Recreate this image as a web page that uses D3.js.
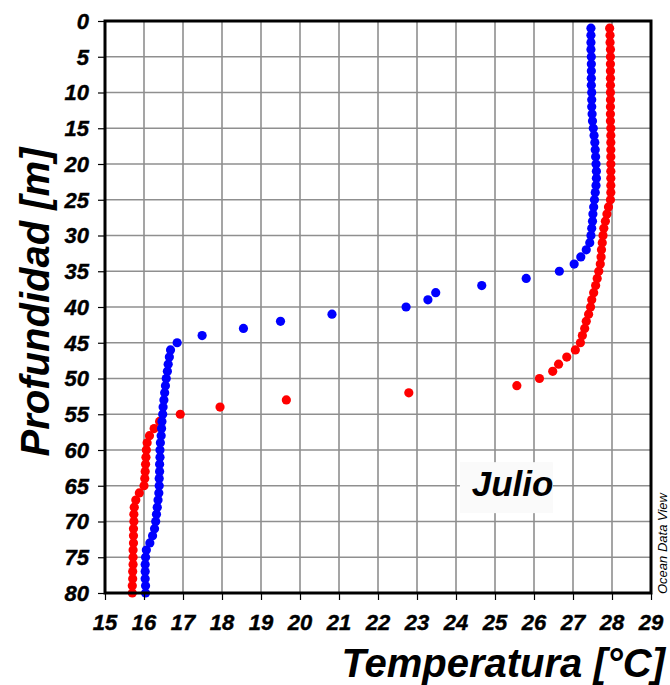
<!DOCTYPE html>
<html>
<head>
<meta charset="utf-8">
<script src="https://cdn.jsdelivr.net/npm/d3@7"></script>
<style>
  body { margin: 0; background: #fff; }
  text { font-family: "Liberation Sans", Arial, sans-serif; }
</style>
</head>
<body>
<div id="graph"></div>
<script>
// --------------------------------------
//  Data
// --------------------------------------

const depths = d3.range(1, 81);

const blueTemp = [
  27.46, 27.46, 27.46, 27.46, 27.47, 27.47, 27.47, 27.47, 27.47, 27.48,
  27.48, 27.48, 27.49, 27.50, 27.52, 27.54, 27.56, 27.57, 27.58, 27.59,
  27.60, 27.60, 27.59, 27.57, 27.55, 27.53, 27.51, 27.50, 27.48, 27.46,
  27.43, 27.34, 27.20, 27.03, 26.65, 25.80, 24.66, 23.48, 23.28, 22.72,
  20.82, 19.50, 18.55, 17.49, 16.85, 16.68, 16.65, 16.62, 16.60, 16.57,
  16.55, 16.53, 16.51, 16.49, 16.48, 16.46, 16.45, 16.44, 16.42, 16.41,
  16.41, 16.40, 16.40, 16.39, 16.39, 16.38, 16.36, 16.34, 16.32, 16.30,
  16.27, 16.22, 16.15, 16.06, 16.04, 16.03, 16.03, 16.03, 16.04, 16.04
];

const redTemp = [
  27.94, 27.95, 27.95, 27.96, 27.96, 27.96, 27.96, 27.96, 27.96, 27.96,
  27.96, 27.96, 27.96, 27.96, 27.97, 27.97, 27.97, 27.97, 27.97, 27.97,
  27.97, 27.97, 27.97, 27.97, 27.96, 27.91, 27.87, 27.83, 27.79, 27.77,
  27.75, 27.73, 27.72, 27.70, 27.66, 27.62, 27.58, 27.53, 27.48, 27.45,
  27.40, 27.34, 27.30, 27.24, 27.19, 27.06, 26.84, 26.63, 26.48, 26.14,
  25.56, 22.79, 19.65, 17.95, 16.93, 16.40, 16.26, 16.14, 16.08, 16.06,
  16.05, 16.04, 16.03, 16.02, 16.00, 15.88, 15.79, 15.75, 15.74, 15.74,
  15.73, 15.73, 15.73, 15.72, 15.72, 15.72, 15.71, 15.71, 15.70, 15.70
];

const tempTicks = d3.range(15, 30);
const depthTicks = d3.range(0, 81, 5);

// --------------------------------------
//  Margin and canvas
// --------------------------------------

const margin = { top: 21, right: 19, bottom: 92, left: 105 };
const width = 670 - margin.left - margin.right;
const height = 685 - margin.top - margin.bottom;

let svg = d3.select("#graph")
  .append("svg")
  .attr("width", 670)
  .attr("height", 685)
  .append("g")
  .attr("transform", "translate(" + margin.left + "," + margin.top + ")");

// --------------------------------------
//  Scales
// --------------------------------------

let x = d3.scaleLinear().domain([15, 29]).range([0, width]);
let y = d3.scaleLinear().domain([0, 80]).range([0, height]);

// --------------------------------------
//  Grid
// --------------------------------------

svg.append("g")
  .selectAll("line")
  .data(tempTicks)
  .join("line")
  .attr("x1", d => x(d)).attr("x2", d => x(d))
  .attr("y1", 0).attr("y2", height)
  .attr("stroke", "#8f8f8f")
  .attr("stroke-width", 1.6);

svg.append("g")
  .selectAll("line")
  .data(depthTicks)
  .join("line")
  .attr("x1", 0).attr("x2", width)
  .attr("y1", d => y(d)).attr("y2", d => y(d))
  .attr("stroke", "#8f8f8f")
  .attr("stroke-width", 1.6);

// Julio label box
svg.append("rect")
  .attr("x", x(24.1)).attr("y", y(61.7))
  .attr("width", 93).attr("height", 51)
  .attr("fill", "#fafafa");

svg.append("text")
  .attr("x", x(25.45)).attr("y", y(66.5))
  .attr("text-anchor", "middle")
  .attr("font-size", 35)
  .attr("font-weight", "bold")
  .attr("font-style", "italic")
  .text("Julio");

// --------------------------------------
//  Points
// --------------------------------------

const blue = depths.map((d, i) => ({ depth: d, temp: blueTemp[i] }));
const red = depths.map((d, i) => ({ depth: d, temp: redTemp[i] }));

svg.append("g")
  .selectAll("circle")
  .data(red)
  .join("circle")
  .attr("cx", d => x(d.temp))
  .attr("cy", d => y(d.depth))
  .attr("r", 4.6)
  .attr("fill", "#ff0000");

svg.append("g")
  .selectAll("circle")
  .data(blue)
  .join("circle")
  .attr("cx", d => x(d.temp))
  .attr("cy", d => y(d.depth))
  .attr("r", 4.6)
  .attr("fill", "#0000ff");

// --------------------------------------
//  Axes (tick marks from d3, labels drawn by hand)
// --------------------------------------

const xAxis = svg.append("g")
  .attr("transform", "translate(0," + height + ")")
  .call(d3.axisBottom(x).tickValues(tempTicks).tickSize(7).tickFormat(""));

const yAxis = svg.append("g")
  .call(d3.axisLeft(y).tickValues(depthTicks).tickSize(7).tickFormat(""));

[xAxis, yAxis].forEach(a => {
  a.select(".domain").remove();
  a.selectAll(".tick line").attr("stroke", "#000").attr("stroke-width", 1.2);
});

const labelStyle = sel => sel
  .attr("fill", "#000")
  .attr("stroke", "#000")
  .attr("stroke-width", 0.4)
  .attr("font-size", 22)
  .attr("font-weight", "bold")
  .attr("font-style", "italic");

svg.append("g")
  .selectAll("text")
  .data(tempTicks)
  .join("text")
  .attr("x", d => x(d))
  .attr("y", height + 37)
  .attr("text-anchor", "middle")
  .call(labelStyle)
  .text(d => d);

svg.append("g")
  .selectAll("text")
  .data(depthTicks)
  .join("text")
  .attr("x", -16)
  .attr("y", d => y(d))
  .attr("dy", "0.36em")
  .attr("text-anchor", "end")
  .call(labelStyle)
  .text(d => d);

// frame
svg.append("rect")
  .attr("x", 0).attr("y", 0)
  .attr("width", width).attr("height", height)
  .attr("fill", "none")
  .attr("stroke", "#000")
  .attr("stroke-width", 3);

// --------------------------------------
//  Titles
// --------------------------------------

svg.append("text")
  .attr("x", 665 - margin.left)
  .attr("y", 677 - margin.top)
  .attr("text-anchor", "end")
  .attr("font-size", 40)
  .attr("font-weight", "bold")
  .attr("font-style", "italic")
  .text("Temperatura [°C]");

svg.append("text")
  .attr("transform", "translate(" + (49 - margin.left) + "," + (302 - margin.top) + ") rotate(-90)")
  .attr("text-anchor", "middle")
  .attr("font-size", 40)
  .attr("font-weight", "bold")
  .attr("font-style", "italic")
  .text("Profundidad [m]");

svg.append("text")
  .attr("transform", "translate(" + (667 - margin.left) + "," + (594 - margin.top) + ") rotate(-90)")
  .attr("text-anchor", "start")
  .attr("font-size", 13)
  .attr("font-style", "italic")
  .text("Ocean Data View");
</script>
</body>
</html>
